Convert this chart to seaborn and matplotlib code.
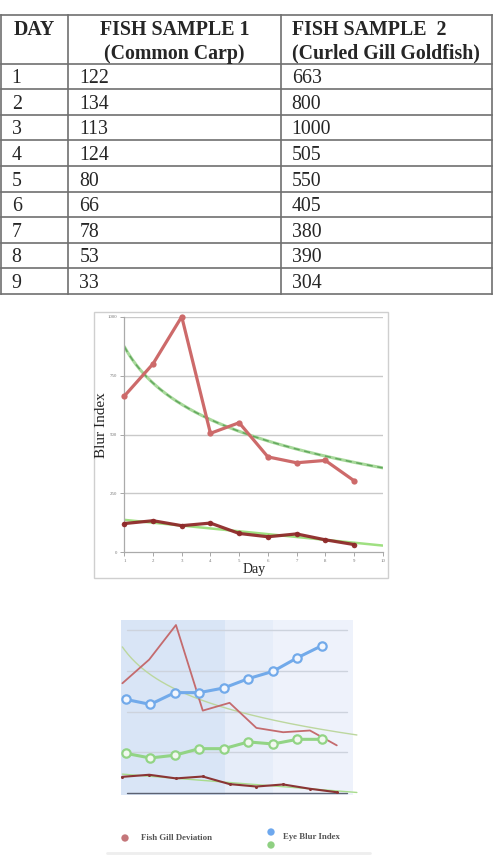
import numpy as np
import matplotlib
matplotlib.use('Agg')
import matplotlib.pyplot as plt
import seaborn as sns
from matplotlib.patches import Rectangle

# ---------------- data ----------------
days = [1, 2, 3, 4, 5, 6, 7, 8, 9]
carp = [122, 134, 113, 124, 80, 66, 78, 53, 33]
goldfish = [663, 800, 1000, 505, 550, 405, 380, 390, 304]
eye_blur_blue = [570, 541, 609, 609, 636, 690, 732, 811, 881]
eye_blur_green = [258, 231, 247, 285, 285, 324, 312, 339, 339]
col_headers = [["DAY"], ["FISH SAMPLE 1", "(Common Carp)"], ["FISH SAMPLE  2", "(Curled Gill Goldfish)"]]
x_ticks = list(range(1, 11))
y_ticks = [0, 250, 500, 750, 1000]
legend_labels = ["Fish Gill Deviation", "Eye Blur Index"]

sns.set_theme(style='white')
plt.rcParams['font.family'] = ['Liberation Serif', 'DejaVu Serif']

W, H = 497, 865
fig = plt.figure(figsize=(W / 100, H / 100), dpi=100)
fig.patch.set_facecolor('white')

# background overlay axes in pixel coordinates (table, frames, legend)
bg = fig.add_axes([0, 0, 1, 1])
bg.set_xlim(0, W)
bg.set_ylim(H, 0)
bg.axis('off')

# ---------------- table ----------------
line_c = '#707070'
t_left, t_right = 1, 491.7
col_x = [t_left, 68.3, 280.7, t_right]
t_top, head_bot, row_h = 15, 63.5, 25.6
n_rows = len(days)
row_lines = [t_top, head_bot] + [head_bot + row_h * (i + 1) for i in range(n_rows)]
for y in row_lines:
    bg.plot([t_left, t_right], [y, y], color=line_c, lw=1.2, solid_capstyle='projecting')
for x in col_x:
    bg.plot([x, x], [t_top, row_lines[-1]], color=line_c, lw=1.2, solid_capstyle='projecting')

fs = 14.3
# headers
bg.text(13.3, 35, col_headers[0][0], fontsize=fs, fontweight='bold', ha='left', va='baseline')
bg.text(174.3, 35, col_headers[1][0], fontsize=fs, fontweight='bold', ha='center', va='baseline')
bg.text(174.3, 58.5, col_headers[1][1], fontsize=fs, fontweight='bold', ha='center', va='baseline')
bg.text(291.7, 35, col_headers[2][0], fontsize=fs, fontweight='bold', ha='left', va='baseline')
bg.text(291.7, 58.5, col_headers[2][1], fontsize=fs, fontweight='bold', ha='left', va='baseline')
for i, (d, c, g) in enumerate(zip(days, carp, goldfish)):
    yb = head_bot + row_h * i + 19.8
    bg.text(11.7, yb, str(d), fontsize=fs, ha='left', va='baseline')
    bg.text(79.3, yb, str(c), fontsize=fs, ha='left', va='baseline')
    bg.text(291.7, yb, str(g), fontsize=fs, ha='left', va='baseline')

# ---------------- middle chart ----------------
bg.add_patch(Rectangle((94, 311.7), 293.7, 266, fill=False, ec='#cfcfcf', lw=1))
ax1 = fig.add_axes([124.3 / W, 1 - 552.3 / H, 258.4 / W, 235.6 / H])
ax1.set_xlim(1, 10)
ax1.set_ylim(0, 1000)

# trend lines fitted from the data
xs = np.linspace(1, 10, 200)
a_g, b_g = np.polyfit(np.log(days), goldfish, 1)
trend_g = a_g * np.log(xs) + b_g
m_c, c_c = np.polyfit(days, carp, 1)
trend_c = m_c * xs + c_c

for yv in y_ticks[1:]:
    ax1.axhline(yv, color='#c9c9c9', lw=1, zorder=0)

sns.lineplot(x=xs, y=trend_g, ax=ax1, color='#a8d99b', lw=2.2, zorder=2)
ax1.plot(xs, trend_g, color='#63a85f', lw=1.1, dashes=(4, 3), zorder=2)
sns.lineplot(x=xs, y=trend_c, ax=ax1, color='#9fe081', lw=1.8, zorder=2)
sns.lineplot(x=days, y=goldfish, ax=ax1, color='#cd6a6a', lw=2.3, marker='o',
             markersize=4.5, markeredgewidth=0, zorder=3, clip_on=False)
sns.lineplot(x=days, y=carp, ax=ax1, color='#8f2a2a', lw=2.3, marker='o',
             markersize=4, markeredgewidth=0, zorder=4, clip_on=False, alpha=0.95)

ax1.set_xticks(x_ticks)
ax1.set_yticks(y_ticks)
ax1.set_xticklabels([str(t) for t in x_ticks])
ax1.set_yticklabels([str(t) for t in y_ticks])
ax1.tick_params(axis='both', labelsize=3.5, labelcolor='#777777', length=3, width=0.6,
                color='#999999', pad=2, bottom=True, left=True)
for s in ['top', 'right']:
    ax1.spines[s].set_visible(False)
for s in ['left', 'bottom']:
    ax1.spines[s].set_color('#aaaaaa')
    ax1.spines[s].set_linewidth(0.9)
ax1.set_xlabel('')
ax1.set_ylabel('')
ax1.patch.set_visible(False)
bg.text(101.7, 425, 'Blur Index', fontsize=11, rotation=90, ha='center', va='center', color='#222222')
bg.text(254, 570, 'Day', fontsize=10, ha='center', va='center', color='#222222')

# ---------------- bottom chart ----------------
bg.add_patch(Rectangle((120.7, 620), 104.3, 175, fc='#d9e5f6', ec='none'))
bg.add_patch(Rectangle((225, 620), 48, 175, fc='#e6edf9', ec='none'))
bg.add_patch(Rectangle((273, 620), 79.7, 175, fc='#eef2fb', ec='none'))

ax2 = fig.add_axes([120.7 / W, 1 - 795 / H, 232 / W, 175 / H])
ax2.set_xlim(0.938, 9.594)
ax2.set_ylim(17, 1029)
ax2.patch.set_visible(False)
for yv in [264, 499, 734, 971]:
    ax2.axhline(yv, xmin=0.026, xmax=0.977, color='#cdd3dd', lw=1, zorder=0)
ax2.axhline(27, xmin=0.026, xmax=0.977, color='#5c6272', lw=1, zorder=1)

xs2 = np.linspace(1, 9.75, 200)
sns.lineplot(x=xs2, y=a_g * np.log(xs2) + b_g, ax=ax2, color='#bcd79e', lw=1, zorder=2, clip_on=False)
sns.lineplot(x=xs2, y=m_c * xs2 + c_c, ax=ax2, color='#a8dc8c', lw=1, zorder=2, clip_on=False)
sns.lineplot(x=days, y=goldfish, ax=ax2, color='#c46b6e', lw=1.3, zorder=3, clip_on=False)
sns.lineplot(x=days, y=carp, ax=ax2, color='#8a3434', lw=1.5, marker='o', markersize=2.2,
             markeredgewidth=0, zorder=3, clip_on=False)

ax3 = ax2.twiny()
ax3.set_xlim(0.796, 10.25)
ax3.patch.set_visible(False)
sns.lineplot(x=days, y=eye_blur_blue, ax=ax3, color='#72aaea', lw=2.2, marker='o', markersize=6,
             markerfacecolor='#f2f6fd', markeredgecolor='#72aaea', markeredgewidth=1.6, zorder=4)
sns.lineplot(x=days, y=eye_blur_green, ax=ax3, color='#92d485', lw=2.2, marker='o', markersize=6,
             markerfacecolor='#f2f8f0', markeredgecolor='#92d485', markeredgewidth=1.6, zorder=4)

for a in (ax2, ax3):
    a.set_xticks([])
    a.set_yticks([])
    a.set_xlabel('')
    a.set_ylabel('')
    for s in a.spines.values():
        s.set_visible(False)

# ---------------- legend ----------------
bg.scatter([125], [838], s=28, color='#c4767a', edgecolors='none')
bg.scatter([271], [832], s=28, color='#6ea8ee', edgecolors='none')
bg.scatter([271], [845], s=28, color='#8fd082', edgecolors='none')
bg.text(141, 838.5, legend_labels[0], fontsize=6.3, fontweight='bold', color='#555555',
        ha='left', va='center')
bg.text(283, 837, legend_labels[1], fontsize=6.3, fontweight='bold', color='#555555',
        ha='left', va='center')
bg.plot([107, 370], [852.5, 852.5], color='#eeeeee', lw=2)

fig.savefig('out.png', dpi=100)
